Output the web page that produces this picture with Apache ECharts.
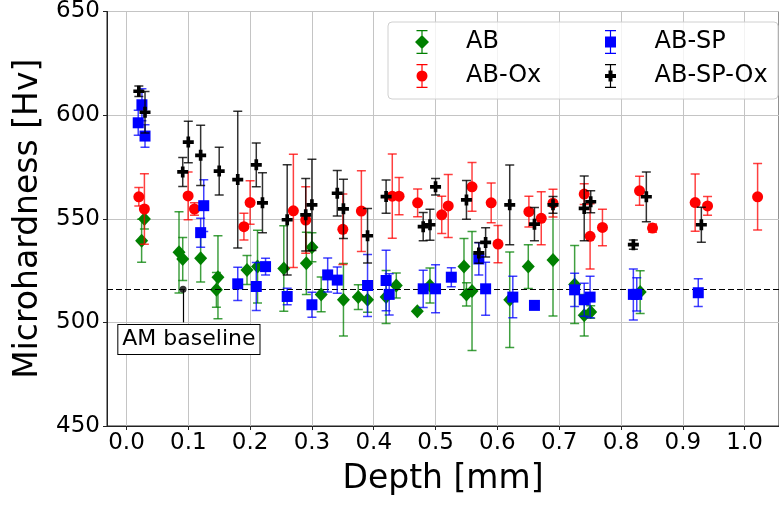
<!DOCTYPE html>
<html>
<head>
<meta charset="utf-8">
<script src="https://cdn.jsdelivr.net/npm/echarts@6/dist/echarts.min.js"></script>
<style>
  html, body { margin: 0; padding: 0; background: #fff; }
  #main { width: 779px; height: 505px; }
</style>
</head>
<body>
<div id="main"></div>
<script>
// data: depth [mm], hardness [Hv], error (+/-)
var abDepth = [0.029, 0.0245, 0.085, 0.091, 0.120, 0.148, 0.1455, 0.195, 0.212, 0.2545, 0.291, 0.300, 0.315, 0.351, 0.375, 0.390, 0.420, 0.4365, 0.4705, 0.491, 0.546, 0.550, 0.559, 0.620, 0.650, 0.690, 0.725, 0.7405, 0.751, 0.831];
var abHv = [549.9, 539.4, 533.8, 530.6, 531.0, 521.8, 515.7, 525.3, 526.9, 526.0, 528.5, 536.2, 513.5, 510.9, 512.2, 510.9, 512.2, 517.8, 505.4, 517.8, 526.9, 513.5, 515.1, 510.9, 526.9, 530.1, 518.3, 503.4, 505.0, 514.6];
var abErr = [4.8, 10.4, 19.6, 10.4, 11.5, 20, 8.4, 7, 17.6, 20.6, 15, 7, 8.4, 17.5, 6, 6, 12.8, 6, 0, 8.4, 13.6, 5.6, 28.7, 23, 10.6, 27, 18.8, 10, 3, 10.3];

var oxDepth = [0.020, 0.029, 0.0997, 0.110, 0.190, 0.200, 0.270, 0.290, 0.350, 0.380, 0.430, 0.441, 0.471, 0.510, 0.5205, 0.559, 0.590, 0.601, 0.651, 0.671, 0.690, 0.7405, 0.750, 0.770, 0.830, 0.851, 0.920, 0.940, 1.021];
var oxHv = [560.6, 554.7, 561.0, 554.7, 546.2, 557.8, 553.8, 549.4, 544.9, 553.7, 560.9, 560.9, 557.7, 551.9, 556.2, 565.4, 557.7, 537.8, 553.4, 550.2, 557.5, 561.9, 541.5, 545.8, 563.5, 545.5, 557.8, 556.2, 560.6];
var oxErr = [4.5, 17, 11.5, 3, 6.5, 10.5, 27.3, 16, 17, 19.5, 20.3, 9, 6.7, 9, 15.2, 11.8, 9.6, 9, 7.4, 12.8, 6.7, 5, 15.7, 8.8, 7, 2, 13.8, 4.5, 16];

var spDepth = [0.025, 0.019, 0.030, 0.125, 0.120, 0.180, 0.210, 0.225, 0.260, 0.300, 0.3255, 0.341, 0.390, 0.420, 0.425, 0.480, 0.500, 0.5255, 0.570, 0.581, 0.625, 0.660, 0.725, 0.7405, 0.750, 0.820, 0.8255, 0.925];
var spHv = [605.0, 596.3, 589.9, 556.3, 543.3, 518.6, 517.3, 526.9, 512.5, 508.5, 522.9, 520.4, 517.8, 520.2, 513.5, 516.2, 516.2, 521.8, 530.6, 516.2, 512.2, 508.2, 515.7, 510.9, 512.2, 513.5, 513.5, 514.3];
var spErr = [7.7, 6, 5.4, 12.5, 7, 8, 11.6, 4, 4, 6, 8.2, 6.3, 15, 14.6, 10, 9, 11.6, 4.6, 7.8, 12.8, 10, 0, 8, 8, 10, 12.3, 8, 6.7];

var spOxDepth = [0.020, 0.030, 0.091, 0.100, 0.120, 0.150, 0.180, 0.210, 0.220, 0.260, 0.290, 0.300, 0.341, 0.351, 0.390, 0.420, 0.480, 0.491, 0.500, 0.550, 0.570, 0.581, 0.620, 0.660, 0.690, 0.7405, 0.751, 0.820, 0.841, 0.930];
var spOxHv = [611.5, 601.4, 572.6, 587.0, 580.6, 573.0, 568.9, 576.0, 557.7, 549.5, 551.9, 556.7, 562.3, 554.8, 541.8, 560.7, 546.2, 547.1, 565.4, 559.1, 533.5, 538.6, 556.7, 547.4, 556.7, 555.0, 558.2, 537.5, 560.6, 547.1];
var spOxErr = [2.5, 10, 7, 10, 14.5, 11.5, 33, 10.5, 14.5, 26.6, 17.5, 22, 11, 14.3, 13.2, 8, 6.8, 7.5, 4, 9.4, 5, 7, 19.2, 8, 4, 15.6, 5.3, 2.2, 12, 8.4];

var baseline = 516;
var yTicks = [450, 500, 550, 600, 650];

var X_MIN = -0.0315, X_MAX = 1.0556;
var FONT = 'DejaVu Sans';

// legend icons (errorbar + marker)
var bar = 'M1.5,0H12.5V1.2H1.5Z M6.4,0H7.6V24H6.4Z M1.5,22.8H12.5V24H1.5Z ';
var iconAB = 'path://' + bar + 'M7,5L14,12L7,19L0,12Z';
var iconOx = 'path://' + bar + 'M1.5,12A5.5,5.5 0 0 1 12.5,12A5.5,5.5 0 0 1 1.5,12Z';
var iconSP = 'path://' + bar + 'M1.5,6.5H12.5V17.5H1.5Z';
var iconSPOx = 'path://' + bar + 'M5,6.5H9V10H12.5V14H9V17.5H5V14H1.5V10H5Z';
var plusSymbol = 'path://M4,0H8V4H12V8H8V12H4V8H0V4H4Z';

function zip(xs, ys, es) {
    var out = [];
    for (var i = 0; i < xs.length; i++) {
        out.push([xs[i], ys[i], es[i]]);
    }
    return out;
}

//errorbar series drawn through the axes
function errSeries(name, data, color, z) {
    return {
        name: name + ' err',
        type: 'custom',
        z: z,
        clip: true,
        encode: { x: 0, y: 1 },
        data: data,
        renderItem: function(params, api) {
            var x = api.value(0), y = api.value(1), e = api.value(2);
            if (!e) return null;
            var top = api.coord([x, y + e]);
            var bot = api.coord([x, y - e]);
            var cap = 4.5;
            var style = { stroke: color, lineWidth: 1.5 };
            return {
                type: 'group',
                children: [
                    { type: 'line', shape: { x1: top[0], y1: top[1], x2: bot[0], y2: bot[1] }, style: style },
                    { type: 'line', shape: { x1: top[0] - cap, y1: top[1], x2: top[0] + cap, y2: top[1] }, style: style },
                    { type: 'line', shape: { x1: bot[0] - cap, y1: bot[1], x2: bot[0] + cap, y2: bot[1] }, style: style }
                ]
            };
        }
    };
}

function markSeries(name, data, color, symbol, size, z) {
    return {
        name: name,
        type: 'scatter',
        z: z,
        symbol: symbol,
        symbolSize: size,
        itemStyle: { color: color, opacity: 1 },
        data: data
    };
}

var myChart = echarts.init(document.getElementById('main'));

var abData = zip(abDepth, abHv, abErr);
var oxData = zip(oxDepth, oxHv, oxErr);
var spData = zip(spDepth, spHv, spErr);
var spOxData = zip(spOxDepth, spOxHv, spOxErr);

var legendText = { fontFamily: FONT, fontSize: 24, color: '#000', padding: [0, 0, 0, 32], lineHeight: 24 };

var option = {
    animation: false,
    backgroundColor: '#fff',
    grid: { left: 107, right: -2, top: 10, bottom: 79, show: true, borderColor: '#222', borderWidth: 1 },
    xAxis: {
        type: 'value',
        min: X_MIN,
        max: X_MAX,
        splitNumber: 10,
        name: 'Depth [mm]',
        nameLocation: 'middle',
        nameGap: 37,
        nameTextStyle: { fontFamily: FONT, fontSize: 33, color: '#000' },
        axisLine: { show: true, onZero: false, lineStyle: { color: '#222', width: 1 } },
        axisTick: { show: true, length: 4, lineStyle: { color: '#222' } },
        axisLabel: {
            fontFamily: FONT, fontSize: 23, color: '#000', margin: 6,
            showMinLabel: false, showMaxLabel: false,
            formatter: function(v) { return v.toFixed(1); }
        },
        splitLine: { show: true, lineStyle: { color: '#c4c4c4', width: 1 } }
    },
    yAxis: {
        type: 'value',
        min: yTicks[0],
        max: yTicks[yTicks.length - 1],
        interval: 50,
        name: 'Microhardness [Hv]',
        nameLocation: 'middle',
        nameGap: 62,
        nameTextStyle: { fontFamily: FONT, fontSize: 33, color: '#000' },
        axisLine: { show: true, onZero: false, lineStyle: { color: '#222', width: 1 } },
        axisTick: { show: true, length: 4, lineStyle: { color: '#222' } },
        axisLabel: { fontFamily: FONT, fontSize: 23, color: '#000', margin: 7 },
        splitLine: { show: true, lineStyle: { color: '#c4c4c4', width: 1 } }
    },
    legend: [{
        orient: 'vertical', left: 415, top: 30, padding: 0,
        itemWidth: 14, itemHeight: 24, itemGap: 10,
        selectedMode: false, z: 8,
        textStyle: legendText,
        data: [{ name: 'AB', icon: iconAB }, { name: 'AB-Ox', icon: iconOx }]
    }, {
        orient: 'vertical', left: 605, top: 30, padding: 0,
        itemWidth: 14, itemHeight: 24, itemGap: 10,
        selectedMode: false, z: 8,
        textStyle: legendText,
        data: [{ name: 'AB-SP', icon: iconSP }, { name: 'AB-SP-Ox', icon: iconSPOx }]
    }],
    graphic: [{
        type: 'rect', z: 7,
        shape: { x: 388, y: 22, width: 390, height: 77, r: 4 },
        style: { fill: 'rgba(255,255,255,0.8)', stroke: '#d0d0d0', lineWidth: 1 }
    }],
    series: [
        errSeries('AB', abData, 'rgba(0,128,0,0.75)', 2),
        markSeries('AB', abData, '#008000', 'diamond', [13, 14], 3),
        errSeries('AB-Ox', oxData, 'rgba(255,0,0,0.75)', 4),
        markSeries('AB-Ox', oxData, '#ff0000', 'circle', 11, 5),
        errSeries('AB-SP', spData, 'rgba(0,0,255,0.75)', 6),
        markSeries('AB-SP', spData, '#0000ff', 'rect', 11, 7),
        errSeries('AB-SP-Ox', spOxData, 'rgba(0,0,0,0.8)', 8),
        markSeries('AB-SP-Ox', spOxData, '#000000', plusSymbol, 11, 9),
        {
            // AM baseline and its annotation
            name: 'AM baseline',
            type: 'scatter',
            z: 12,
            symbol: 'circle',
            symbolSize: 7,
            itemStyle: { color: '#000' },
            data: [[0.0915, baseline]],
            markLine: {
                silent: true,
                symbol: ['none', 'none'],
                label: { show: false },
                lineStyle: { color: '#000', width: 1, type: [6, 3] },
                data: [
                    { yAxis: baseline },
                    [{ coord: [0.0915, baseline], lineStyle: { type: 'solid', width: 1.2 } }, { coord: [0.0915, 500] }]
                ]
            },
            markPoint: {
                silent: true,
                symbol: 'rect',
                symbolSize: 0,
                data: [{ coord: [0.101, 491.7] }],
                label: {
                    show: true,
                    position: 'inside',
                    formatter: 'AM baseline',
                    fontFamily: FONT,
                    fontSize: 22,
                    color: '#000',
                    backgroundColor: '#fff',
                    borderColor: '#000',
                    borderWidth: 1,
                    padding: [4, 4, 3, 4]
                }
            }
        }
    ]
};

myChart.setOption(option);
</script>
</body>
</html>
